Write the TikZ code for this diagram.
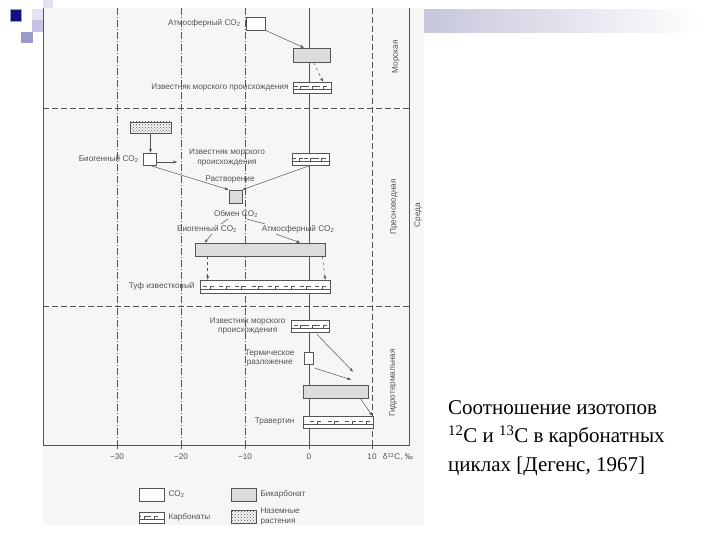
\documentclass[tikz,border=0pt]{standalone}
\usepackage{fontspec}
\setmainfont{Liberation Serif}
\setsansfont{Liberation Sans}
\usetikzlibrary{arrows.meta,positioning,calc,patterns}
\definecolor{cInk}{HTML}{555555}
\definecolor{cBicarb}{HTML}{DCDCDC}
\definecolor{cPaper}{HTML}{F6F6F6}
\definecolor{cNavy}{HTML}{10107E}
\definecolor{cLav}{HTML}{9A9ACB}
\definecolor{cLavLt}{HTML}{C4C4E2}
\definecolor{cLavPale}{HTML}{E2E2F0}
\definecolor{cBar}{HTML}{C6C6DC}

\begin{document}
\begin{tikzpicture}[
  x=1pt, y=-1pt,
  grid/.style={cInk, line width=0.5pt},
  lbl/.style={font=\sffamily\fontsize{8.2}{9.5}\selectfont, text=cInk, inner sep=1pt, align=center},
  sz/.style n args={2}{minimum width=#1pt, minimum height=#2pt},
  box/.style={draw=cInk, line width=0.6pt, inner sep=0pt, fill=white},
  co2/.style={box},
  bicarb/.style={box, fill=cBicarb},
  plant/.style={box, pattern=crosshatch dots, pattern color=cInk},
  carb/.style={box, path picture={
    \draw[cInk, line width=0.35pt]
      ($(path picture bounding box.south west)+(0,-3.5)$) -- ($(path picture bounding box.south east)+(0,-3.5)$);
    \foreach \f in {#1}{
      \draw[cInk, line width=0.35pt]
        ($(path picture bounding box.south west)!\f!(path picture bounding box.south east)+(0,-3.5)$)
        -- ++(0,-3.5) -- ++(4,0);
      \draw[cInk, line width=0.35pt]
        ($(path picture bounding box.south west)!\f!(path picture bounding box.south east)+(-7,-7)$) -- ++(4,0);
    }}},
  carb/.default={0.25,0.55,0.85},
  arr/.style={-{Stealth[length=4pt,width=3pt]}, cInk, line width=0.5pt},
]
\useasboundingbox (0,0) rectangle (720,540);

% ---------- slide decoration ----------
\fill[cLavPale] (43,0) rectangle (53,8);
\fill[cLavPale] (32,9) rectangle (43,20);
\fill[cLavLt] (32,20) rectangle (43,32);
\fill[cLav] (21,32) rectangle (33,43);
\fill[cNavy, draw=cLav, line width=0.8pt] (10,9) rectangle (21,21);
\shade[left color=cBar, right color=white] (423,10) rectangle (700,33);

% ---------- scanned figure: paper and frame ----------
\fill[cPaper] (43,8) rectangle (424,525);
\draw[grid] (43,8) -- (43,445) -- (409,445) -- (409,8);
\foreach \gx in {117,181,245}
  \draw[grid, dash pattern=on 7pt off 2pt on 1pt off 2pt] (\gx,8) -- (\gx,445);
\draw[grid] (309,8) -- (309,445);
\draw[grid, dash pattern=on 6pt off 3pt] (372,8) -- (372,445);
\draw[grid, dash pattern=on 6pt off 3pt] (43,108) -- (409,108);
\draw[grid, dash pattern=on 6pt off 3pt] (43,306) -- (409,306);

% ---------- axis ----------
\foreach \gx/\txt in {117/−30,181/−20,245/−10,309/0,372/10}{
  \draw[grid] (\gx,445) -- (\gx,449);
  \node[lbl] (tick\gx) at (\gx,457) {\txt};
}
\node[lbl] (axisL) at (398,457) {δ\textsuperscript{13}C, ‰};

% ---------- environment labels ----------
\node[lbl, rotate=90] (envMar) at (396,57) {Морская};
\node[lbl, rotate=90] (envFresh) at (394,207) {Пресноводная};
\node[lbl, rotate=90] (envHydro) at (393,383) {Гидротермальная};
\node[lbl, rotate=90] (envAll) at (418,215) {Среда};

% ---------- marine ----------
\node[co2, sz={19}{13}] (atm1) at (255.5,23.5) {};
\node[lbl, left=4pt of atm1] (atm1L) {Атмосферный CO\textsubscript{2}};
\node[bicarb, sz={37}{14}] (bic1) at (311.5,55) {};
\node[carb={0.2,0.5,0.8}, sz={38}{11}] (carb1) at (312,87.5) {};
\node[lbl, left=3pt of carb1] (carb1L) {Известняк морского происхождения};

% ---------- fresh water ----------
\node[plant, sz={41}{11}] (plant) at (150.5,127.5) {};
\node[co2, sz={13}{12}] (bio) at (149.5,159) {};
\node[lbl, left=3pt of bio] (bioL) {Биогенный CO\textsubscript{2}};
\coordinate (bioOut) at (177,162);
\node[lbl] (limeL2) at (227,157.5) {Известняк морского\\происхождения};
\node[carb={0.2,0.5,0.8}, sz={37}{12}] (carb2) at (310.5,159) {};
\node[lbl] (dissL) at (230,180) {Растворение};
\node[bicarb, sz={13}{13}] (exch) at (235.5,196.5) {};
\node[lbl] (exchL) at (236,214) {Обмен CO\textsubscript{2}};
\node[lbl] (bioL2) at (207,229) {Биогенный CO\textsubscript{2}};
\node[lbl] (atmL2) at (298,229) {Атмосферный CO\textsubscript{2}};
\node[bicarb, sz={130}{13}] (bic2) at (260,249.5) {};
\node[carb={0.08,0.2,0.32,0.45,0.58,0.7,0.82,0.94}, sz={130}{13}] (tuff) at (265,286.5) {};
\node[lbl, left=4pt of tuff] (tuffL) {Туф известковый};

% ---------- hydrothermal ----------
\node[carb={0.25,0.55,0.85}, sz={38}{12}] (carb4) at (310,326) {};
\node[lbl, left=4pt of carb4] (carb4L) {Известняк морского\\происхождения};
\node[co2, sz={9}{12}] (therm) at (308.5,358) {};
\node[lbl, left=8pt of therm] (thermL) {Термическое\\разложение};
\node[bicarb, sz={65}{13}] (bic3) at (335.5,391.5) {};
\node[carb={0.2,0.45,0.7,0.9}, sz={70}{12}] (trav) at (338,422) {};
\node[lbl, left=7pt of trav] (travL) {Травертин};
\coordinate (hydA) at ($(bic3.north)+(17.5,-13)$);
\coordinate (hydB) at ($(bic3.north)+(15.5,-5)$);

% ---------- arrows ----------
\draw[arr] (atm1.south east) -- ($(bic1.north west)!0.3!(bic1.north east)$);
\draw[arr, dashed] ($(bic1.south)+(2,0)$) -- ($(carb1.north)+(11,0)$);
\draw[arr] (plant.south) -- (plant.south |- bio.north);
\draw[arr] ($(bio.east)+(0,3)$) -- (bioOut);
\draw[arr] (bio.south) -- (exch.north west);
\draw[arr] (carb2.south) -- (exch.north east);
\draw[grid] ($(exchL.south)+(-8,0)$) -- ($(bioL2.north)+(14,0)$);
\draw[grid] ($(exchL.south)+(10,0)$) -- ($(atmL2.north)+(-33,0)$);
\draw[arr] ($(bioL2.south)+(5,0)$) -- ($(bic2.north west)+(10,0)$);
\draw[arr] ($(atmL2.south)+(-22,0)$) -- ($(bic2.north east)+(-25,0)$);
\draw[arr, dashed] ($(bic2.south west)+(13,0)$) -- ($(tuff.north west)+(8,0)$);
\draw[arr, dashed] ($(bic2.south east)+(-3,0)$) -- ($(tuff.north east)+(-5,0)$);
\draw[arr] ($(carb4.south)+(7,2)$) -- (hydA);
\draw[arr] ($(therm.south east)+(2,4)$) -- (hydB);
\draw[arr] ($(bic3.south east)+(-8,0)$) -- ($(trav.north east)+(-1,0)$);

% ---------- legend ----------
\node[co2, sz={25}{13}] (lgCo2) at (151.5,494.5) {};
\node[lbl, right=3pt of lgCo2] (lgCo2L) {CO\textsubscript{2}};
\node[bicarb, sz={25}{13}] (lgBic) at (243.5,494.5) {};
\node[lbl, right=3pt of lgBic] (lgBicL) {Бикарбонат};
\node[carb={0.2,0.6}, sz={25}{11}] (lgCarb) at (151.5,517.5) {};
\node[lbl, right=3pt of lgCarb] (lgCarbL) {Карбонаты};
\node[plant, sz={25}{13}] (lgPlant) at (243.5,516.5) {};
\node[lbl, right=3pt of lgPlant, align=left] (lgPlantL) {Наземные\\растения};

% ---------- caption ----------
\node[anchor=north west, align=left, inner sep=0pt,
      font=\fontsize{21}{28.5}\selectfont] (caption) at (448,400)
  {Соотношение изотопов\\
   \textsuperscript{12}C и \textsuperscript{13}C в карбонатных\\
   циклах [Дегенс, 1967]};

\end{tikzpicture}
\end{document}
